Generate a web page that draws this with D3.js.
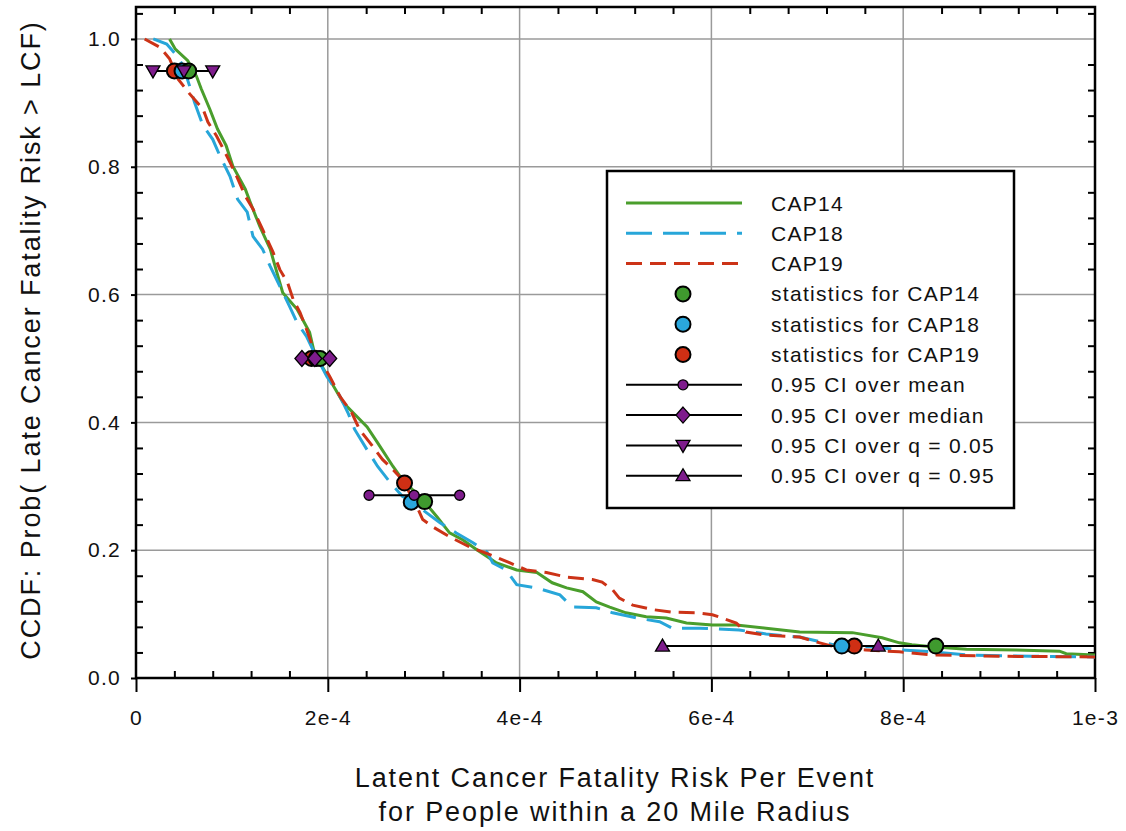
<!DOCTYPE html>
<html><head><meta charset="utf-8">
<script src="https://cdn.jsdelivr.net/npm/d3@7"></script>
<style>
body{margin:0;background:#fff;}
svg{display:block;font-family:"Liberation Sans",Arial,sans-serif;}
</style></head>
<body>
<svg id="chart" width="1126" height="831"></svg>
<script>
// ---------- data (x in units of 1e-4, y = CCDF probability) ----------
const cap14X = [0.35,0.41,0.54,0.63,0.68,0.77,0.85,0.94,1.01,1.14,1.19,1.29,1.40,1.48,1.53,1.68,1.81,1.86,2.00,2.16,2.41,2.52,2.68,2.78,2.99,3.14,3.27,3.41,3.55,3.66,3.76,3.97,4.18,4.34,4.49,4.66,4.80,4.94,5.11,5.32,5.53,5.74,6.01,6.26,6.57,6.92,7.47,7.78,7.96,8.09,8.30,8.66,9.18,9.63,9.70,10.0];
const cap14Y = [1.0,0.984,0.966,0.942,0.922,0.890,0.859,0.833,0.801,0.765,0.745,0.707,0.671,0.629,0.603,0.577,0.541,0.509,0.472,0.431,0.393,0.368,0.331,0.310,0.279,0.252,0.227,0.216,0.201,0.190,0.180,0.169,0.165,0.149,0.141,0.135,0.119,0.111,0.102,0.096,0.094,0.086,0.083,0.083,0.078,0.072,0.071,0.063,0.055,0.052,0.049,0.045,0.044,0.042,0.038,0.036];
const cap18X = [0.18,0.32,0.43,0.49,0.56,0.61,0.70,0.80,0.875,0.98,1.06,1.16,1.22,1.32,1.40,1.50,1.60,1.68,1.78,1.86,1.99,2.13,2.21,2.28,2.41,2.52,2.65,2.78,2.93,2.99,3.17,3.34,3.51,3.66,3.72,3.86,3.97,4.18,4.42,4.55,4.80,4.97,5.22,5.46,5.59,5.88,6.29,6.57,6.92,7.16,7.36,7.68,7.96,8.30,8.66,9.34,10.0];
const cap18Y = [1.0,0.992,0.973,0.958,0.926,0.901,0.864,0.843,0.817,0.785,0.749,0.729,0.691,0.671,0.644,0.613,0.582,0.556,0.534,0.509,0.472,0.440,0.415,0.389,0.357,0.331,0.306,0.284,0.274,0.263,0.243,0.227,0.212,0.197,0.180,0.169,0.146,0.141,0.130,0.111,0.110,0.102,0.094,0.088,0.078,0.078,0.075,0.069,0.064,0.056,0.049,0.049,0.044,0.041,0.036,0.034,0.033];
const cap19X = [0.09,0.25,0.35,0.44,0.56,0.70,0.75,0.84,0.91,0.98,1.05,1.14,1.22,1.32,1.43,1.50,1.58,1.64,1.71,1.78,1.84,2.02,2.13,2.25,2.33,2.44,2.57,2.68,2.78,2.93,2.99,3.09,3.27,3.48,3.69,3.90,4.07,4.28,4.49,4.76,4.86,4.97,5.04,5.18,5.39,5.59,5.84,6.01,6.11,6.26,6.36,6.57,6.92,7.13,7.33,7.61,7.96,8.30,9.00,10.0];
const cap19Y = [1.0,0.987,0.969,0.937,0.914,0.890,0.870,0.848,0.828,0.807,0.785,0.754,0.734,0.702,0.666,0.639,0.619,0.592,0.572,0.545,0.519,0.472,0.440,0.415,0.389,0.368,0.342,0.326,0.310,0.268,0.248,0.237,0.221,0.205,0.193,0.180,0.169,0.165,0.158,0.154,0.150,0.138,0.125,0.114,0.107,0.103,0.102,0.099,0.094,0.086,0.072,0.067,0.064,0.055,0.047,0.044,0.041,0.036,0.034,0.033];

// statistics points per run: [q05, median, mean, q95]
const statLevels = ["q05","median","mean","q95"];
const stat14X = [0.55,1.92,3.01,8.34];
const stat14Y = [0.95,0.50,0.276,0.05];
const stat18X = [0.48,1.88,2.87,7.36];
const stat18Y = [0.95,0.50,0.275,0.05];
const stat19X = [0.40,1.83,2.80,7.49];
const stat19Y = [0.95,0.50,0.305,0.05];

// 0.95 confidence intervals: lower, centre, upper
const ciMeanX   = [2.43,2.90,3.375]; const ciMeanY = 0.286;
const ciMedianX = [1.73,1.865,2.02]; const ciMedianY = 0.50;
const ciQ05X    = [0.177,0.50,0.80]; const ciQ05Y = 0.95;
const ciQ95X    = [5.49,7.74,10.4];  const ciQ95Y = 0.05;

const xTickVals = [0,2,4,6,8,10];
const xTickLabels = ["0","2e-4","4e-4","6e-4","8e-4","1e-3"];
const yTickVals = [0,0.2,0.4,0.6,0.8,1.0];
const yTickLabels = ["0.0","0.2","0.4","0.6","0.8","1.0"];

const legendLabels = ["CAP14","CAP18","CAP19","statistics for CAP14","statistics for CAP18","statistics for CAP19",
  "0.95 CI over mean","0.95 CI over median","0.95 CI over q = 0.05","0.95 CI over q = 0.95"];

// ---------- styling ----------
const GREEN="#4a9e2c", CYAN="#27a6d9", RED="#cc3317", PURPLE="#7e1c8c";
const mGREEN="#3f9a2e", mCYAN="#2aa7dd", mRED="#cf2f14";

const svg = d3.select("#chart");
const L=136, R=1095, T=7, B=678;
const x = d3.scaleLinear().domain([0,10]).range([L,R]);
const y = d3.scaleLinear().domain([0,1.05]).range([B,T]);

svg.append("defs").append("clipPath").attr("id","clip")
  .append("rect").attr("x",L).attr("y",T).attr("width",R-L).attr("height",B-T);

// grid
const grid = svg.append("g");
grid.selectAll(".gx").data([2,4,6,8]).enter().append("line")
  .attr("x1",d=>x(d)).attr("x2",d=>x(d)).attr("y1",T).attr("y2",B)
  .attr("stroke","#9a9a9a").attr("stroke-width",1.5);
grid.selectAll(".gy").data([0.2,0.4,0.6,0.8,1.0]).enter().append("line")
  .attr("x1",L).attr("x2",R).attr("y1",d=>y(d)).attr("y2",d=>y(d))
  .attr("stroke","#9a9a9a").attr("stroke-width",1.5);

// axes with D3 axis generators
const fontCss = "font-family:'Liberation Sans',Arial,sans-serif;font-size:21px;letter-spacing:1.3px;fill:#111";
const xMinor = d3.range(0,10.01,0.4).filter(v=>Math.abs(v/2-Math.round(v/2))>1e-6);
const yMinor = d3.range(0,1.041,0.04).filter(v=>Math.abs(v/0.2-Math.round(v/0.2))>1e-6);

function styleAxis(g){ g.select(".domain").remove(); g.selectAll("line").attr("stroke","#000").attr("stroke-width",2); }

// bottom major
const gxb = svg.append("g").attr("transform",`translate(0,${B})`)
  .call(d3.axisBottom(x).tickValues(xTickVals).tickSize(14).tickPadding(18).tickFormat((d,i)=>xTickLabels[i]));
styleAxis(gxb); gxb.selectAll("text").attr("style",fontCss);
// bottom minor (inward)
const gxbm = svg.append("g").attr("transform",`translate(0,${B})`)
  .call(d3.axisTop(x).tickValues(xMinor).tickSize(7).tickFormat(""));
styleAxis(gxbm);
// top minor (inward)
const gxtm = svg.append("g").attr("transform",`translate(0,${T})`)
  .call(d3.axisBottom(x).tickValues(xMinor).tickSize(7).tickFormat(""));
styleAxis(gxtm);
// left major
const gyl = svg.append("g").attr("transform",`translate(${L},0)`)
  .call(d3.axisLeft(y).tickValues(yTickVals).tickSize(5).tickPadding(10).tickFormat((d,i)=>yTickLabels[i]));
styleAxis(gyl); gyl.selectAll("text").attr("style",fontCss);
// left minor
const gylm = svg.append("g").attr("transform",`translate(${L},0)`)
  .call(d3.axisRight(y).tickValues(yMinor).tickSize(7).tickFormat(""));
styleAxis(gylm);
// right minor
const gyrm = svg.append("g").attr("transform",`translate(${R},0)`)
  .call(d3.axisLeft(y).tickValues(yMinor).tickSize(7).tickFormat(""));
styleAxis(gyrm);

// frame
svg.append("rect").attr("x",L).attr("y",T).attr("width",R-L).attr("height",B-T)
  .attr("fill","none").attr("stroke","#000").attr("stroke-width",2.5);

// curves
const plot = svg.append("g").attr("clip-path","url(#clip)");
const line = d3.line().x(d=>x(d[0])).y(d=>y(d[1]));
const curves = [
  {xs:cap14X, ys:cap14Y, c:GREEN, dash:null},
  {xs:cap18X, ys:cap18Y, c:CYAN, dash:"26,11"},
  {xs:cap19X, ys:cap19Y, c:RED, dash:"16,8"}
];
curves.forEach(cv=>{
  plot.append("path").datum(d3.zip(cv.xs,cv.ys)).attr("d",line)
    .attr("fill","none").attr("stroke",cv.c).attr("stroke-width",3)
    .attr("stroke-dasharray",cv.dash);
});

// CI lines
const cis = [
  {xs:ciQ05X, yv:ciQ05Y, sym:"tdown"},
  {xs:ciMedianX, yv:ciMedianY, sym:"diamond"},
  {xs:ciMeanX, yv:ciMeanY, sym:"smallcircle"},
  {xs:ciQ95X, yv:ciQ95Y, sym:"tup"}
];
cis.forEach(ci=>{
  plot.append("line").attr("x1",x(ci.xs[0])).attr("x2",x(ci.xs[2]))
    .attr("y1",y(ci.yv)).attr("y2",y(ci.yv)).attr("stroke","#000").attr("stroke-width",2);
});

function drawSym(g, sym, cx, cy, fill){
  if(sym==="circle"){
    g.append("circle").attr("cx",cx).attr("cy",cy).attr("r",7.5).attr("fill",fill).attr("stroke","#000").attr("stroke-width",2);
  } else if(sym==="smallcircle"){
    g.append("circle").attr("cx",cx).attr("cy",cy).attr("r",5).attr("fill",PURPLE).attr("stroke","#000").attr("stroke-width",1.3);
  } else if(sym==="diamond"){
    g.append("path").attr("d",`M${cx},${cy-8}L${cx+7},${cy}L${cx},${cy+8}L${cx-7},${cy}Z`)
      .attr("fill",PURPLE).attr("stroke","#000").attr("stroke-width",1.3);
  } else if(sym==="tdown"){
    g.append("path").attr("d",`M${cx-7},${cy-5}L${cx+7},${cy-5}L${cx},${cy+7}Z`)
      .attr("fill",PURPLE).attr("stroke","#000").attr("stroke-width",1.3);
  } else if(sym==="tup"){
    g.append("path").attr("d",`M${cx-7},${cy+5}L${cx+7},${cy+5}L${cx},${cy-7}Z`)
      .attr("fill",PURPLE).attr("stroke","#000").attr("stroke-width",1.3);
  }
}

// stats circles
const stats = [
  {xs:stat14X, ys:stat14Y, c:mGREEN},
  {xs:stat18X, ys:stat18Y, c:mCYAN},
  {xs:stat19X, ys:stat19Y, c:mRED}
];
const mk = svg.append("g").attr("clip-path","url(#clip)");
// draw order roughly like reference
[stats[2],stats[1],stats[0]].forEach(s=>{
  s.xs.forEach((v,i)=>drawSym(mk,"circle",x(v),y(s.ys[i]),s.c));
});
cis.forEach(ci=>{
  ci.xs.forEach(v=>drawSym(mk,ci.sym,x(v),y(ci.yv),PURPLE));
});

// legend
const lg = svg.append("g");
lg.append("rect").attr("x",607).attr("y",171).attr("width",407).attr("height",337)
  .attr("fill","#fff").attr("stroke","#000").attr("stroke-width",2.5);
const rowY = i => 203 + i*30.3;
legendLabels.forEach((t,i)=>{
  const yy = rowY(i);
  lg.append("text").attr("x",771).attr("y",yy+7.5).text(t).attr("style",fontCss);
  if(i<3){
    lg.append("line").attr("x1",626).attr("x2",742).attr("y1",yy).attr("y2",yy)
      .attr("stroke",curves[i].c).attr("stroke-width",3).attr("stroke-dasharray",curves[i].dash);
  } else if(i<6){
    drawSym(lg,"circle",683,yy,stats[i-3].c);
  } else {
    lg.append("line").attr("x1",626).attr("x2",742).attr("y1",yy).attr("y2",yy).attr("stroke","#000").attr("stroke-width",2);
    const syms=["smallcircle","diamond","tdown","tup"];
    drawSym(lg,syms[i-6],683,yy,PURPLE);
  }
});

// axis titles
const titleCss = "font-family:'Liberation Sans',Arial,sans-serif;font-size:27px;letter-spacing:1.9px;fill:#111";
svg.append("text").attr("x",615).attr("y",787).attr("text-anchor","middle").attr("style",titleCss)
  .text("Latent Cancer Fatality Risk Per Event");
svg.append("text").attr("x",615).attr("y",821).attr("text-anchor","middle").attr("style",titleCss)
  .text("for People within a 20 Mile Radius");
svg.append("text").attr("transform","translate(40,340) rotate(-90)").attr("text-anchor","middle").attr("style",titleCss)
  .text("CCDF: Prob( Late Cancer Fatality Risk > LCF)");
</script>
</body></html>
